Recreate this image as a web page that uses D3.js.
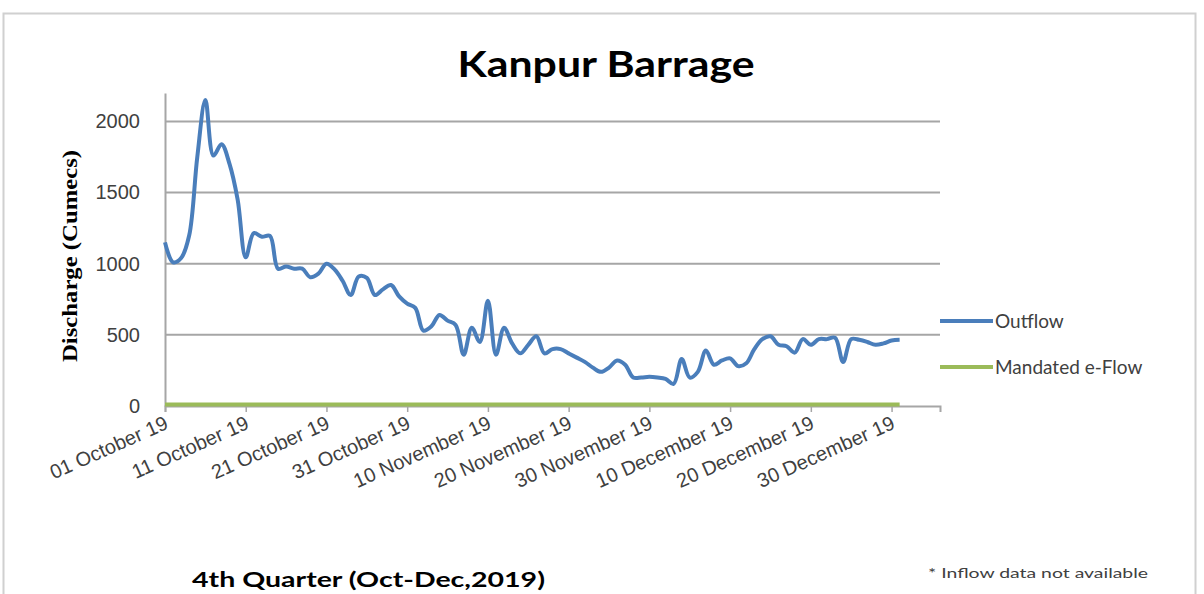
<!DOCTYPE html>
<html>
<head>
<meta charset="utf-8">
<script src="https://cdn.jsdelivr.net/npm/d3@7"></script>
<style>
    html, body { margin: 0; padding: 0; background: #fff; }
    #chart-container { width: 1204px; height: 594px; }
</style>
</head>
<body>
<div id="chart-container"></div>
<script>
// daily outflow, 01 Oct 2019 .. 31 Dec 2019 (cumecs)
const outflow = [
    1150, 1010, 1040, 1200, 1750, 2150, 1760, 1840, 1700, 1450,
    1045, 1215, 1190, 1195, 965, 980, 965, 965, 905, 930,
    1000, 960, 880, 780, 910, 900, 780, 820, 850, 770,
    720, 690, 530, 560, 640, 600, 570, 360, 550, 450,
    740, 360, 550, 440, 370, 430, 490, 370, 400, 400,
    370, 340, 310, 270, 240, 270, 320, 290, 200, 200,
    205, 200, 190, 155, 330, 200, 240, 390, 290, 320,
    335, 280, 300, 400, 470, 490, 430, 420, 375, 470,
    430, 470, 470, 480, 310, 470, 465, 450, 430, 440,
    460, 465
];
const eflowValue = 10;
const startDate = new Date(Date.UTC(2019, 9, 1));
const axisEnd = new Date(Date.UTC(2020, 0, 5));
const tickDates = ['2019-10-01', '2019-10-11', '2019-10-21', '2019-10-31', '2019-11-10',
    '2019-11-20', '2019-11-30', '2019-12-10', '2019-12-20', '2019-12-30'];
const yTicks = [0, 500, 1000, 1500, 2000];
const seriesNames = ['Outflow', 'Mandated e-Flow'];
const seriesColors = ['#4a7ebb', '#9bbb59'];

document.addEventListener('DOMContentLoaded', () => {
    const width = 1204, height = 594;
    const day = 24 * 3600 * 1000;

    const outflowData = outflow.map((v, i) => ({ date: new Date(startDate.getTime() + i * day), value: v }));
    const eflowData = outflowData.map(d => ({ date: d.date, value: eflowValue }));

    const svg = d3.select('#chart-container')
        .append('svg')
        .attr('width', width)
        .attr('height', height)
        .style('font-family', 'Lato, "Open Sans", sans-serif');

    // outer chart frame
    svg.append('rect')
        .attr('x', 3.5).attr('y', 13.5)
        .attr('width', 1192).attr('height', 600)
        .attr('fill', '#fff')
        .attr('stroke', '#d0d0d0')
        .attr('stroke-width', 2);

    const x = d3.scaleUtc()
        .domain([startDate, axisEnd])
        .range([165, 940]);

    const y = d3.scaleLinear()
        .domain([0, 2200])
        .range([406, 93]);

    // gridlines
    svg.append('g')
        .selectAll('line')
        .data(yTicks.filter(t => t > 0))
        .enter().append('line')
        .attr('x1', 165).attr('x2', 940)
        .attr('y1', d => y(d)).attr('y2', d => y(d))
        .attr('stroke', '#a6a6a6')
        .attr('stroke-width', 2);

    // y axis
    const yAxis = svg.append('g')
        .attr('transform', 'translate(165,0)')
        .call(d3.axisLeft(y).tickValues(yTicks).tickSize(0).tickPadding(25).tickFormat(d3.format('d')));
    yAxis.select('.domain').attr('stroke', '#a6a6a6').attr('stroke-width', 2);
    yAxis.selectAll('text')
        .attr('fill', '#404040')
        .style('font-size', '20px');

    // x axis
    const xAxis = svg.append('g')
        .attr('transform', 'translate(0,406)')
        .call(d3.axisBottom(x)
            .tickValues(tickDates.map(s => new Date(s + 'T00:00:00Z')))
            .tickSize(6)
            .tickFormat(d3.utcFormat('%d %B %y')));
    xAxis.select('.domain').attr('stroke', '#a6a6a6').attr('stroke-width', 2);
    xAxis.selectAll('.tick line').attr('stroke', '#a6a6a6').attr('stroke-width', 1.5);
    xAxis.selectAll('text')
        .attr('fill', '#404040')
        .style('font-size', '20px')
        .attr('text-anchor', 'end')
        .attr('y', 0)
        .attr('dy', 0)
        .attr('transform', 'translate(4,22) rotate(-24)');

    const line = d3.line()
        .x(d => x(d.date))
        .y(d => y(d.value))
        .curve(d3.curveMonotoneX);

    svg.append('path')
        .datum(eflowData)
        .attr('d', line)
        .attr('fill', 'none')
        .attr('stroke', seriesColors[1])
        .attr('stroke-width', 4);

    svg.append('path')
        .datum(outflowData)
        .attr('d', line.curve(d3.curveCatmullRom.alpha(0.5)))
        .attr('fill', 'none')
        .attr('stroke', seriesColors[0])
        .attr('stroke-width', 4)
        .attr('stroke-linejoin', 'round');

    // legend
    const legend = svg.append('g')
        .selectAll('g')
        .data(seriesNames)
        .enter().append('g')
        .attr('transform', (d, i) => `translate(940,${321 + i * 46})`);
    legend.append('line')
        .attr('x1', 0).attr('x2', 53)
        .attr('stroke', (d, i) => seriesColors[i])
        .attr('stroke-width', 4);
    legend.append('text')
        .attr('x', 55)
        .attr('dy', '0.35em')
        .attr('fill', '#404040')
        .style('font-size', '19px')
        .text(d => d);

    // title
    svg.append('text')
        .attr('x', 606).attr('y', 77)
        .attr('text-anchor', 'middle')
        .style('font-size', '36px')
        .style('font-weight', 'bold')
        .attr('textLength', 297)
        .attr('lengthAdjust', 'spacingAndGlyphs')
        .attr('fill', '#000')
        .text('Kanpur Barrage');

    // y axis title
    svg.append('text')
        .attr('transform', 'translate(77,256) rotate(-90)')
        .attr('text-anchor', 'middle')
        .style('font-family', '"Liberation Serif", "Times New Roman", serif')
        .style('font-size', '21px')
        .style('font-weight', 'bold')
        .attr('textLength', 212)
        .attr('lengthAdjust', 'spacingAndGlyphs')
        .attr('fill', '#000')
        .text('Discharge (Cumecs)');

    // x axis caption
    svg.append('text')
        .attr('x', 192).attr('y', 587)
        .style('font-size', '21px')
        .style('font-weight', 'bold')
        .attr('textLength', 353)
        .attr('lengthAdjust', 'spacingAndGlyphs')
        .attr('fill', '#000')
        .text('4th Quarter (Oct-Dec,2019)');

    // footnote
    svg.append('text')
        .attr('x', 928).attr('y', 578)
        .style('font-size', '14px')
        .attr('textLength', 220)
        .attr('lengthAdjust', 'spacingAndGlyphs')
        .attr('fill', '#404040')
        .text('* Inflow data not available');
});
</script>
</body>
</html>
